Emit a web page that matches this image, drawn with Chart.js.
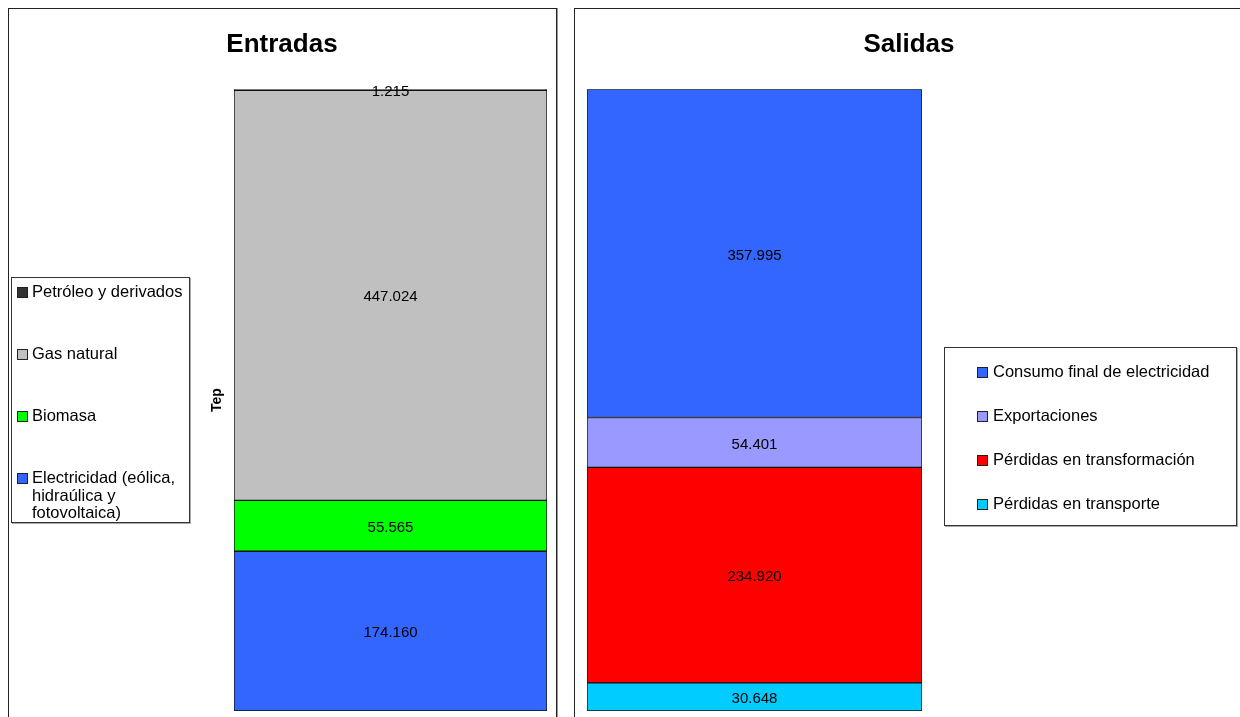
<!DOCTYPE html>
<html>
<head>
<meta charset="utf-8">
<script src="https://cdn.jsdelivr.net/npm/chart.js@4/dist/chart.umd.min.js"></script>
<style>
  body { margin: 0; width: 1240px; height: 717px; overflow: hidden; background: #fff;
         font-family: "Liberation Sans", Arial, sans-serif; }
  .panel { position: absolute; top: 8px; height: 730px; border: 1px solid #222; box-shadow: 1px 0 0 #999; }
  canvas { position: absolute; }
  .legend { position: absolute; border: 1px solid #333; background: #fff; box-sizing: border-box; box-shadow: 1px 1px 0 #aaa; }
  .item { position: absolute; font-size: 16.5px; line-height: 17.5px; color: #000; }
  .sw { position: absolute; width: 9px; height: 9px; border: 1px solid #222; }
</style>
</head>
<body>
<div class="panel" style="left:8px; width:547px;"></div>
<div class="panel" style="left:574px; width:670px;"></div>
<canvas id="entradas" width="546" height="708" style="left:9px; top:9px;"></canvas>
<canvas id="salidas" width="668" height="708" style="left:575px; top:9px;"></canvas>
<div id="legendEntradas" class="legend" style="left:11px; top:277px; width:179px; height:246px;"></div>
<div id="legendSalidas" class="legend" style="left:944px; top:347px; width:293px; height:179px;"></div>
<script>
// stacks listed bottom -> top
const entradasLabels = ['Electricidad (eólica, hidraúlica y fotovoltaica)', 'Biomasa', 'Gas natural', 'Petróleo y derivados'];
const entradasValues = [174160, 55565, 447024, 1215];
const entradasColors = ['#3366FF', '#00FF00', '#C0C0C0', '#333333'];

const salidasLabels = ['Pérdidas en transporte', 'Pérdidas en transformación', 'Exportaciones', 'Consumo final de electricidad'];
const salidasValues = [30648, 234920, 54401, 357995];
const salidasColors = ['#00CCFF', '#FF0000', '#9999FF', '#3366FF'];

const FONT = '"Liberation Sans", Arial, sans-serif';

function fmt(n) {
    return String(n).replace(/\B(?=(\d{3})+(?!\d))/g, '.');
}

const valueLabels = {
    id: 'valueLabels',
    afterDatasetsDraw(chart) {
        const ctx = chart.ctx;
        ctx.save();
        ctx.font = '15px ' + FONT;
        ctx.fillStyle = '#000';
        ctx.textAlign = 'center';
        ctx.textBaseline = 'middle';
        chart.data.datasets.forEach((ds, i) => {
            chart.getDatasetMeta(i).data.forEach((el, j) => {
                ctx.fillText(fmt(ds.data[j]), el.x, (el.y + el.base) / 2 + 2);
            });
        });
        ctx.restore();
    }
};

// empty side axis, only used to reserve room around the bar
function spacer(position, width, titleText, titleOffset) {
    return {
        type: 'linear',
        position: position,
        display: true,
        ticks: { display: false },
        grid: { display: false, drawTicks: false },
        border: { display: false },
        title: {
            display: !!titleText,
            text: titleText || '',
            color: '#000',
            font: { family: FONT, size: 14, weight: 'bold' },
            padding: { top: titleOffset || 0, bottom: 0 }
        },
        afterFit: s => { s.width = width; }
    };
}

function buildConfig(title, labels, values, colors, leftW, rightW, axisTitle, titleOffset) {
    const total = values.reduce((a, b) => a + b, 0);
    const y = spacer('left', leftW, axisTitle, titleOffset);
    y.stacked = true;
    y.min = 0;
    y.max = total;
    return {
        type: 'bar',
        data: {
            labels: [''],
            datasets: labels.map((l, i) => ({
                label: l,
                data: [values[i]],
                backgroundColor: colors[i],
                borderColor: '#111',
                borderWidth: 1,
                borderSkipped: false,
                barPercentage: 1,
                categoryPercentage: 1
            }))
        },
        options: {
            responsive: false,
            animation: false,
            layout: { padding: { left: 0, right: 0, top: 0, bottom: 6 } },
            plugins: {
                legend: { display: false },
                tooltip: { enabled: false },
                title: {
                    display: true,
                    text: title,
                    color: '#000',
                    font: { family: FONT, size: 26, weight: 'bold' },
                    padding: { top: 20, bottom: 29 }
                }
            },
            scales: {
                x: { stacked: true, display: false },
                y: y,
                y2: spacer('right', rightW)
            }
        },
        plugins: [valueLabels]
    };
}

function buildLegend(el, labels, colors, opts) {
    // legend lists the stack top -> bottom
    const order = labels.map((_, i) => i).reverse();
    order.forEach((idx, k) => {
        const top = opts.first + k * opts.step;
        const sw = document.createElement('div');
        sw.className = 'sw';
        sw.style.left = opts.swLeft + 'px';
        sw.style.top = (top + 4) + 'px';
        sw.style.background = colors[idx];
        el.appendChild(sw);
        const item = document.createElement('div');
        item.className = 'item';
        item.style.left = opts.textLeft + 'px';
        item.style.top = top + 'px';
        item.style.width = opts.textWidth + 'px';
        item.textContent = labels[idx];
        el.appendChild(item);
    });
}

new Chart(document.getElementById('entradas'),
    buildConfig('Entradas', entradasLabels, entradasValues, entradasColors, 225, 8, 'Tep', 200));
new Chart(document.getElementById('salidas'),
    buildConfig('Salidas', salidasLabels, salidasValues, salidasColors, 12, 321));

buildLegend(document.getElementById('legendEntradas'), entradasLabels, entradasColors,
    { first: 5, step: 62, swLeft: 5, textLeft: 20, textWidth: 157 });
buildLegend(document.getElementById('legendSalidas'), salidasLabels, salidasColors,
    { first: 15, step: 44, swLeft: 32, textLeft: 48, textWidth: 240 });
</script>
</body>
</html>
